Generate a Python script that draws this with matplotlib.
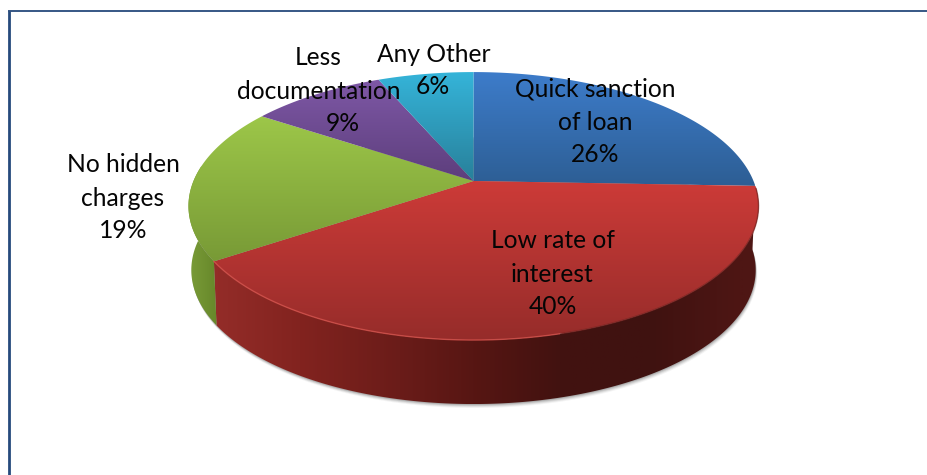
import numpy as np
import matplotlib
matplotlib.use("Agg")
import matplotlib.pyplot as plt
from matplotlib.colors import LinearSegmentedColormap, to_rgb
from matplotlib.patches import Polygon

categories = ["Quick sanction\nof loan", "Low rate of\ninterest", "No hidden\ncharges",
              "Less\ndocumentation", "Any Other"]
percent_labels = [26, 40, 19, 9, 6]
shares = [25.6, 40.0, 18.7, 9.2, 6.5]
top_light = ["#3d7cca", "#cd3b38", "#9dc749", "#7e58a6", "#35b4d9"]
top_dark = ["#2d5e94", "#962c2a", "#789a36", "#5d3e7c", "#28809a"]
red_wall = ["#932c28", "#82231f", "#6a1c19", "#571613", "#421210", "#3f1210", "#4e1614", "#4e1614"]
red_stops = [218, 300, 400, 473, 560, 650, 740, 760]
green_wall = ["#7a9c38", "#648528"]
green_stops = [189, 220]
# category name centre, percent centre (image pixels)
name_pos = [(595.5, 105.5), (552.5, 257.5), (123, 181.5), (318.5, 74.5), (433.5, 54.5)]
pct_pos = [(595.5, 155), (552.5, 306.5), (123, 230.5), (343, 123.5), (433, 87)]

CX, CY, A, B, C, H, BOTTOM_SCALE = 473.5, 181.0, 129.3, 0.187, 280.0, 64.0, 0.99

plt.rcParams["font.family"] = ["Lato", "DejaVu Sans"]
fig = plt.figure(figsize=(9.27, 4.75), dpi=100)
ax = fig.add_axes([0, 0, 1, 1])
ax.axis("off")


def rim(theta):
    X, Y = np.sin(theta), np.cos(theta)
    d = 1 + B * Y
    return CX + C * X / d, CY - A * Y / d


def bottom_x(x):
    return CX + (x - CX) * BOTTOM_SCALE


edges = 2 * np.pi * np.cumsum([0] + shares) / sum(shares)

# soft shadow under the wall
t = np.linspace(0, 2 * np.pi, 361)
rx, ry = rim(t)
for off, alpha in zip([4, 3, 2, 1], [0.06, 0.10, 0.14, 0.20]):
    ax.add_patch(Polygon(np.c_[bottom_x(rx) + off * 0.4, ry + H + off], fc="#404040", ec="none", alpha=alpha, zorder=1))


def wall(a0, a1, stops, cols):
    th = np.linspace(a0, a1, 300)
    x, y = rim(th)
    px = np.r_[x, bottom_x(x[::-1])]
    py = np.r_[y, y[::-1] + H]
    xs = np.linspace(px.min(), px.max(), 512)
    rgb = np.array([to_rgb(c) for c in cols])
    img = np.stack([np.interp(xs, stops, rgb[:, k]) for k in range(3)], axis=-1)[None, :, :]
    im = ax.imshow(img, aspect="auto", extent=[px.min(), px.max(), py.max(), py.min()], zorder=2)
    im.set_clip_path(Polygon(np.c_[px, py], transform=ax.transData))


wall(edges[1], edges[2], red_stops, red_wall)
wall(edges[2], np.pi * 1.5 + 0.12, green_stops, green_wall)

# top faces
for i in range(len(shares)):
    th = np.linspace(edges[i], edges[i + 1], 200)
    x, y = rim(th)
    px = np.r_[CX, x]
    py = np.r_[CY, y]
    cmap = LinearSegmentedColormap.from_list("f", [top_light[i], top_dark[i]])
    im = ax.imshow(np.linspace(0, 1, 256)[:, None], cmap=cmap, aspect="auto",
                   extent=[px.min(), px.max(), py.max(), py.min()], zorder=3)
    im.set_clip_path(Polygon(np.c_[px, py], transform=ax.transData))

ax.set_xlim(0, 927)
ax.set_ylim(475, 0)

# rim highlight on the front of the top face
th = np.linspace(edges[1] + 0.02, edges[2], 300)
x, y = rim(th)
ax.plot(x[x < 560], y[x < 560], color="#d4504a", lw=1.0, alpha=0.8, zorder=4)
ax.plot(x[x >= 560], y[x >= 560], color="#7a2320", lw=1.0, alpha=0.7, zorder=4)

# page frame
ax.plot([9, 9], [475, 10.5], color="#264a7c", lw=2.0, zorder=5, solid_capstyle="butt")
ax.plot([8, 927], [10.5, 10.5], color="#264a7c", lw=1.3, zorder=5, solid_capstyle="butt")

for name, v, p, q in zip(categories, percent_labels, name_pos, pct_pos):
    ax.text(p[0], p[1], name, ha="center", va="center", fontsize=17.7, color="#050505",
            linespacing=1.53, zorder=6)
    ax.text(q[0], q[1], f"{v}%", ha="center", va="center", fontsize=17.7, color="#050505", zorder=6)

fig.savefig("out.png", dpi=100, facecolor="white")
